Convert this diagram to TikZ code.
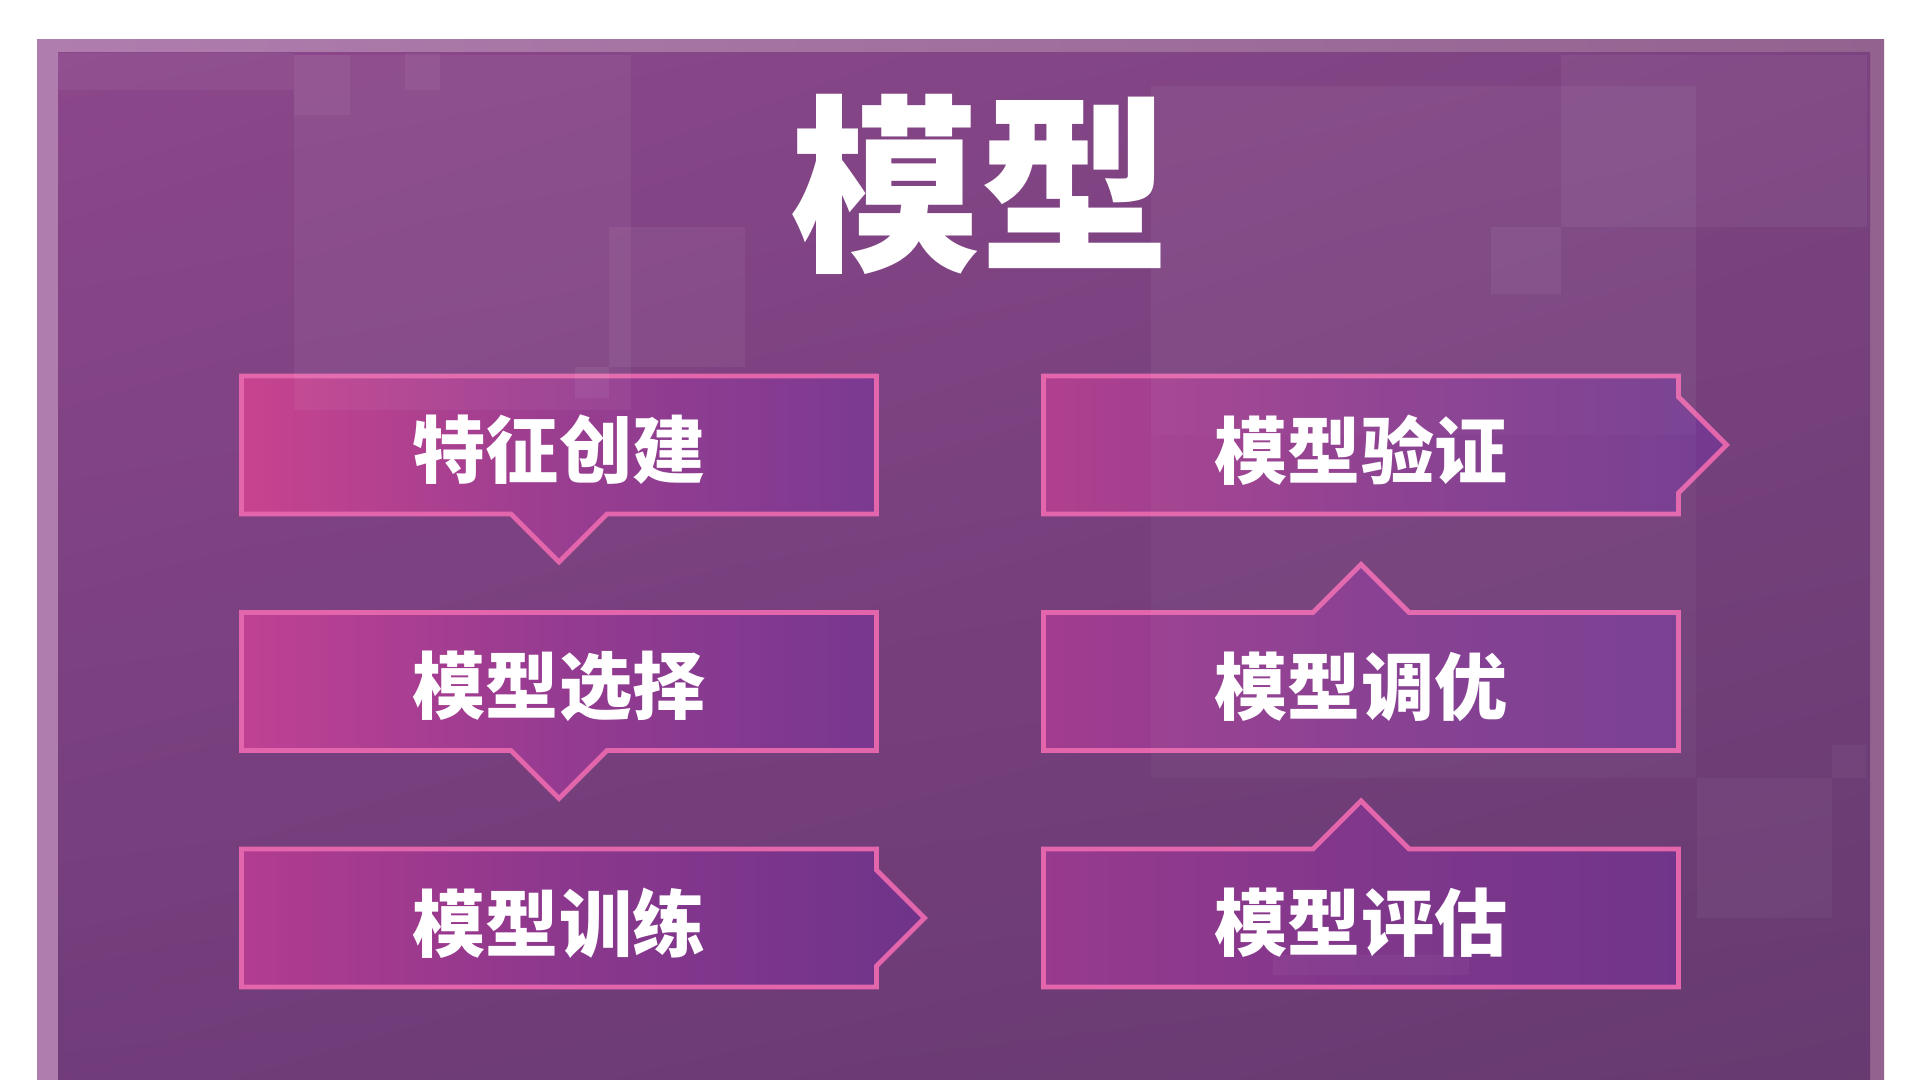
\documentclass[tikz,border=0pt]{standalone}
\usepackage{fontspec}
\usetikzlibrary{shadings}
\newfontfamily\cjkbold{Noto Sans CJK SC Black}
\definecolor{edgepink}{HTML}{E366AC}
\definecolor{boxL}{HTML}{C4428F}
\definecolor{boxR}{HTML}{74378F}
\definecolor{bgTL}{HTML}{8C478B}
\definecolor{bgTR}{HTML}{7C4381}
\definecolor{bgBL}{HTML}{703C79}
\definecolor{bgBR}{HTML}{663A70}
\definecolor{frameL}{HTML}{B07EAE}
\definecolor{frameR}{HTML}{93628F}
\begin{document}
\begin{tikzpicture}[
tone/.code 2 args={\definecolor{boxL}{HTML}{#1}\definecolor{boxR}{HTML}{#2}},
boxline/.style={draw=edgepink, line width=1.4pt, left color=boxL, right color=boxR,
  middle color=boxL!40!boxR},
boxtext/.style={text=white, font=\cjkbold\fontsize{20.8}{24}\selectfont, yshift=-0.5mm},
tile/.style={fill=white, fill opacity=#1},
downbox/.pic={
  \path[boxline] (-3.175,0.69) -- (3.175,0.69) -- (3.175,-0.69) -- (0.48,-0.69)
    -- (0,-1.17) -- (-0.48,-0.69) -- (-3.175,-0.69) -- cycle;
  \node[boxtext] (-t) {#1};},
upbox/.pic={
  \path[boxline] (-3.175,0.69) -- (-0.48,0.69) -- (0,1.17) -- (0.48,0.69)
    -- (3.175,0.69) -- (3.175,-0.69) -- (-3.175,-0.69) -- cycle;
  \node[boxtext] (-t) {#1};},
rightbox/.pic={
  \path[boxline] (-3.175,0.69) -- (3.175,0.69) -- (3.175,0.48) -- (3.655,0)
    -- (3.175,-0.48) -- (3.175,-0.69) -- (-3.175,-0.69) -- cycle;
  \node[boxtext] (-t) {#1};}
]
\clip (0,0) rectangle (19.2,10.8);
\fill[white] (0,0) rectangle (19.2,10.8);
% frame and panel
\shade[left color=frameL, right color=frameR] (0.37,-0.2) rectangle (18.84,10.40);
\shade[upper left=bgTL, upper right=bgTR, lower left=bgBL, lower right=bgBR]
  (0.58,-0.2) rectangle (18.70,10.27);

\node[text=white, font=\cjkbold\fontsize{54}{60}\selectfont] (title) at (9.80,8.96) {模型};

\path
  (5.59,6.35) pic[tone={C8438F}{7B3A91}] (feat) {downbox=特征创建}
  (5.59,3.985) pic[tone={C04193}{78378F}] (sel) {downbox=模型选择}
  (5.59,1.62) pic[tone={B23C90}{6E348A}] (train) {rightbox=模型训练}
  (13.61,1.62) pic[tone={983A8E}{70358A}] (eval) {upbox=模型评估}
  (13.61,3.985) pic[tone={A23C90}{763B90}] (tune) {upbox=模型调优}
  (13.61,6.35) pic[tone={B0408F}{723A8F}] (valid) {rightbox=模型验证};

% faint squares
\foreach \xa/\ya/\xb/\yb/\op in {
  0.58/9.90/2.94/10.27/.05, 2.94/9.65/3.50/10.25/.05, 4.05/9.90/4.40/10.27/.05,
  2.94/6.70/6.31/10.25/.05, 5.75/6.82/6.09/7.13/.06, 6.09/7.13/7.45/8.53/.05,
  11.51/6.45/16.96/9.94/.05, 15.61/8.53/18.67/10.25/.05, 14.91/7.86/15.61/8.53/.05,
  11.51/3.02/16.96/6.45/.03, 16.97/1.62/18.32/3.02/.04, 18.32/3.02/18.66/3.35/.04,
  12.73/1.05/14.69/1.25/.04}
  \fill[tile=\op] (\xa,\ya) rectangle (\xb,\yb);

\end{tikzpicture}
\end{document}
